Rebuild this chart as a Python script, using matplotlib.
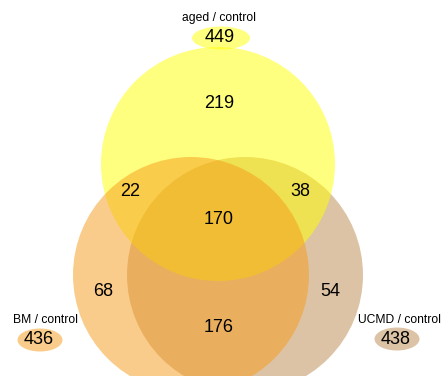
import matplotlib
matplotlib.use("Agg")
import matplotlib.pyplot as plt
import matplotlib.patches as patches

# set names and totals
set_names = ["aged / control", "BM / control", "UCMD / control"]
set_totals = [449, 436, 438]

# region counts
only_aged = 219
aged_bm = 22
aged_ucmd = 38
all_three = 170
only_bm = 68
only_ucmd = 54
bm_ucmd = 176

colors = {"aged": "#FFFF00", "bm": "#F59B19", "ucmd": "#BD894D"}

W, H = 441, 376
fig = plt.figure(figsize=(W / 100, H / 100), dpi=100)
ax = fig.add_axes([0, 0, 1, 1])
ax.set_xlim(0, W)
ax.set_ylim(H, 0)
ax.set_aspect("equal")
ax.axis("off")

r = 118
# draw order: ucmd, aged, bm
ax.add_patch(patches.Circle((245, 275), r, facecolor=colors["ucmd"], alpha=0.5, lw=0))
ax.add_patch(patches.Circle((218, 164), 117, facecolor=colors["aged"], alpha=0.5, lw=0))
ax.add_patch(patches.Circle((191, 275), r, facecolor=colors["bm"], alpha=0.5, lw=0))

font = "Liberation Sans"
num_kw = dict(ha="center", va="center", fontsize=13, family=font, color="black")

ax.text(219, 104, str(only_aged), **num_kw)
ax.text(130, 191, str(aged_bm), **num_kw)
ax.text(300, 191, str(aged_ucmd), **num_kw)
ax.text(219, 220, str(all_three), **num_kw)
ax.text(103, 291, str(only_bm), **num_kw)
ax.text(330, 291, str(only_ucmd), **num_kw)
ax.text(219, 328, str(bm_ucmd), **num_kw)

# set labels with total badges
label_pos = [(219, 18, 221, 38, 58), (45, 320, 40, 340, 45), (399, 320, 397, 339, 45)]
label_cols = [colors["aged"], colors["bm"], colors["ucmd"]]
for name, total, (tx, ty, ex, ey, ew), c in zip(set_names, set_totals, label_pos, label_cols):
    ax.text(tx, ty, name, ha="center", va="center", fontsize=8.7, family=font)
    ax.add_patch(patches.Ellipse((ex, ey), ew, 23, facecolor=c, alpha=0.5, lw=0))
    ax.text(ex - 1, ey, str(total), **num_kw)

fig.savefig("out.png", dpi=100)
